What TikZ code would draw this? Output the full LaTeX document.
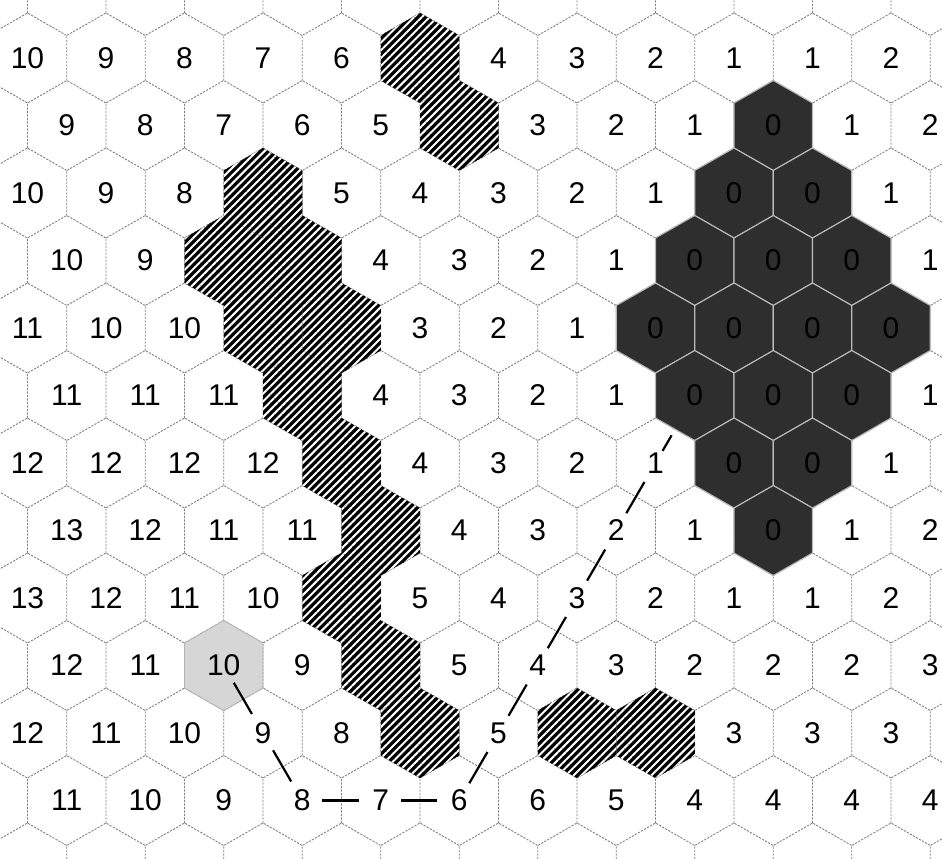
\documentclass[tikz,border=0pt]{standalone}
\usepackage{fontspec}
\setmainfont{Liberation Sans}
\usetikzlibrary{patterns.meta}

% one full hexagon round a named centre
\newcommand{\hexcell}[2]{\path[#1, shift={(#2)}] (0,-\hh) -- (\hw,-\hs) -- (\hw,\hs) -- (0,\hh) -- (-\hw,\hs) -- (-\hw,-\hs) -- cycle;}

\begin{document}
\begin{tikzpicture}[x=1pt, y=-1pt,
    gridline/.style={draw=black!50, line width=0.9pt, dash pattern=on 2.2pt off 1.3pt},
    goalcell/.style={fill=black!82, draw=gray!55, line width=1.1pt},
    wallcell/.style={preaction={fill=black}, pattern={Lines[angle=45, distance=5.5pt, line width=2pt]}, pattern color=white},
    startcell/.style={fill=gray!32, draw=gray!60, line width=0.8pt},
    dist/.style={font=\fontsize{30}{31}\selectfont, inner sep=0pt},
    route/.style={line width=2.2pt, shorten <=20pt, shorten >=22pt}]
    % half width, half height, shoulder of a cell
    \def\hw{39.25}
    \def\hh{45}
    \def\hs{22.5}

    \useasboundingbox (0,0) rectangle (942,859);
    \clip (0,0) rectangle (942,859);

    % --- cell centres and dashed grid (each cell draws its upper edges) ---
    \foreach \r in {-1,...,13} {
        \pgfmathsetmacro\off{mod(\r+2,2)*\hw}
        \foreach \c in {-1,...,13} {
            \coordinate (h-\r-\c) at ({27.5+\off+2*\hw*\c}, {58+67.5*\r});
            \draw[gridline, shift={(h-\r-\c)}] (-\hw,\hs) -- (-\hw,-\hs) -- (0,-\hh) -- (\hw,-\hs);
        }
    }

    % --- start cell ---
    \hexcell{startcell}{h-9-2}

    % --- distances (-1 = wall, 0 = goal) ---
    \foreach \vals [count=\r from 0] in {
        {10,9,8,7,6,-1,4,3,2,1,1,2},
        {9,8,7,6,5,-1,3,2,1,0,1,2},
        {10,9,8,-1,5,4,3,2,1,0,0,1},
        {10,9,-1,-1,4,3,2,1,0,0,0,1},
        {11,10,10,-1,-1,3,2,1,0,0,0,0},
        {11,11,11,-1,4,3,2,1,0,0,0,1},
        {12,12,12,12,-1,4,3,2,1,0,0,1},
        {13,12,11,11,-1,4,3,2,1,0,1,2},
        {13,12,11,10,-1,5,4,3,2,1,1,2},
        {12,11,10,9,-1,5,4,3,2,2,2,3},
        {12,11,10,9,8,-1,5,-1,-1,3,3,3},
        {11,10,9,8,7,6,6,5,4,4,4,4}} {
        \foreach \v [count=\c from 0] in \vals {
            \ifnum\v<0
                \hexcell{wallcell}{h-\r-\c}
            \else
                \ifnum\v=0 \hexcell{goalcell}{h-\r-\c}\fi
                \node[dist] (n-\r-\c) at (h-\r-\c) {\v};
            \fi
        }
    }

    % --- shortest route back to the goal ---
    \foreach \a/\b in {9-2/10-3, 10-3/11-3, 11-3/11-4, 11-4/11-5, 11-5/10-6,
                       10-6/9-6, 9-6/8-7, 8-7/7-7, 7-7/6-8}
        \draw[route] (h-\a) -- (h-\b);
    \draw[route, shorten <=14pt, shorten >=46pt] (h-6-8) -- (h-5-8);
\end{tikzpicture}
\end{document}
